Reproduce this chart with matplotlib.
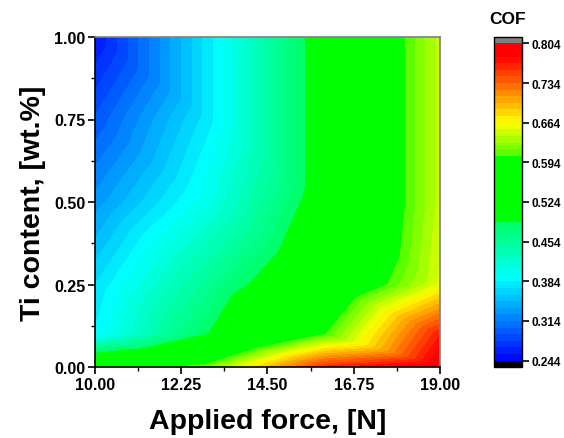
import numpy as np
import matplotlib
matplotlib.use("Agg")
import matplotlib.pyplot as plt
import matplotlib.tri as mtri
from matplotlib.colors import LinearSegmentedColormap

# ---- data ----
force = [10.0, 13.0, 16.0, 19.0]           # Applied force, N
ti = [0.0, 0.1, 0.25, 0.5, 0.75, 1.0]      # Ti content, wt.%
cof_ti_000 = [0.560, 0.620, 0.760, 0.800]
cof_ti_010 = [0.385, 0.490, 0.603, 0.767]
cof_ti_025 = [0.372, 0.460, 0.545, 0.655]
cof_ti_050 = [0.330, 0.405, 0.511, 0.645]
cof_ti_075 = [0.292, 0.380, 0.511, 0.645]
cof_ti_100 = [0.254, 0.380, 0.511, 0.645]
cof_rows = [cof_ti_000, cof_ti_010, cof_ti_025, cof_ti_050, cof_ti_075, cof_ti_100]

x_ticks = [10.00, 12.25, 14.50, 16.75, 19.00]
y_ticks = [0.00, 0.25, 0.50, 0.75, 1.00]
cbar_ticks = [0.244, 0.314, 0.384, 0.454, 0.524, 0.594, 0.664, 0.734, 0.804]
zmin, zmax, nlev = 0.244, 0.804, 48

plt.rcParams['font.family'] = ['Liberation Sans', 'DejaVu Sans']
plt.rcParams['font.weight'] = 'bold'

# ---- mesh & triangulation ----
nx, ny = len(force), len(ti)
X, Y = np.meshgrid(force, ti)
Z = np.array(cof_rows)
tris = []
for j in range(ny - 1):
    for i in range(nx - 1):
        bl = j * nx + i
        br = j * nx + i + 1
        tl = (j + 1) * nx + i
        tr = (j + 1) * nx + i + 1
        tris.append([tl, tr, br])
        tris.append([tl, bl, br])
tri = mtri.Triangulation(X.ravel(), Y.ravel(), np.array(tris))

# ---- colormap (Origin-like rainbow) ----
def nv(v):
    return (v - zmin) / (zmax - zmin)
anchors = [
    (0.244, (0, 0, 255)),
    (0.390, (0, 255, 255)),
    (0.4885, (0, 255, 100)),
    (0.4895, (0, 255, 0)),
    (0.600, (0, 255, 0)),
    (0.6005, (60, 255, 0)),
    (0.664, (255, 255, 0)),
    (0.780, (255, 0, 0)),
    (0.804, (255, 0, 0)),
]
cmap = LinearSegmentedColormap.from_list(
    "origin_rainbow", [(nv(v), tuple(c / 255 for c in col)) for v, col in anchors], N=1024)
cmap = cmap.with_extremes(under='black', over=(0.5, 0.5, 0.5))
levels = np.linspace(zmin, zmax, nlev + 1)

fig = plt.figure(figsize=(5.64, 4.39), dpi=100)
ax = fig.add_axes([95 / 564, 1 - 368 / 439, 345 / 564, 330 / 439])
cs = ax.tricontourf(tri, Z.ravel(), levels=levels, cmap=cmap, extend='both',
                    vmin=zmin, vmax=zmax)
cs.set_edgecolor('face')
cs.set_linewidth(0.4)

ax.set_xlim(10, 19)
ax.set_ylim(0, 1)
ax.set_xticks(x_ticks)
ax.set_yticks(y_ticks)
ax.set_xticklabels([f"{v:.2f}" for v in x_ticks])
ax.set_yticklabels([f"{v:.2f}" for v in y_ticks])
ax.set_xticks([(a + b) / 2 for a, b in zip(x_ticks[:-1], x_ticks[1:])], minor=True)
ax.set_yticks([(a + b) / 2 for a, b in zip(y_ticks[:-1], y_ticks[1:])], minor=True)
ax.tick_params(which='major', direction='out', length=5, width=1.2, labelsize=11.5, pad=2)
ax.tick_params(which='minor', direction='out', length=3, width=1.0)
for lab in ax.get_xticklabels() + ax.get_yticklabels():
    lab.set_fontweight('bold')
for s in ['left', 'bottom']:
    ax.spines[s].set_linewidth(1.2)
    ax.spines[s].set_color('black')
for s in ['top', 'right']:
    ax.spines[s].set_linewidth(1.2)
    ax.spines[s].set_color('#808080')

ax.set_xlabel("Applied force, [N]", fontsize=20.5, fontweight='bold', labelpad=12)
ax.set_ylabel("Ti content, [wt.%]", fontsize=20.5, fontweight='bold', labelpad=6)

# ---- colorbar ----
cax = fig.add_axes([494 / 564, 1 - 368.3 / 439, 28 / 564, 330.6 / 439])
cb = fig.colorbar(cs, cax=cax, extend='both', extendrect=True, extendfrac=0.021,
                  ticks=cbar_ticks, drawedges=False)
cb.ax.set_yticklabels([f"{v:.3f}" for v in cbar_ticks])
cb.ax.tick_params(direction='out', length=5, width=1.2, labelsize=8.5, pad=2)
for lab in cb.ax.get_yticklabels():
    lab.set_fontweight('bold')
cb.ax.minorticks_off()
cb.outline.set_linewidth(1.0)
for k, t in enumerate(cb.ax.yaxis.get_major_ticks()):
    t.tick2line.set_color('#888888' if k % 2 == 0 else '#222222')
fig.text(508 / 564, 1 - 20 / 439, "COF", ha='center', va='center',
         fontsize=12.5, fontweight='bold')

fig.savefig("out.png", dpi=100)
